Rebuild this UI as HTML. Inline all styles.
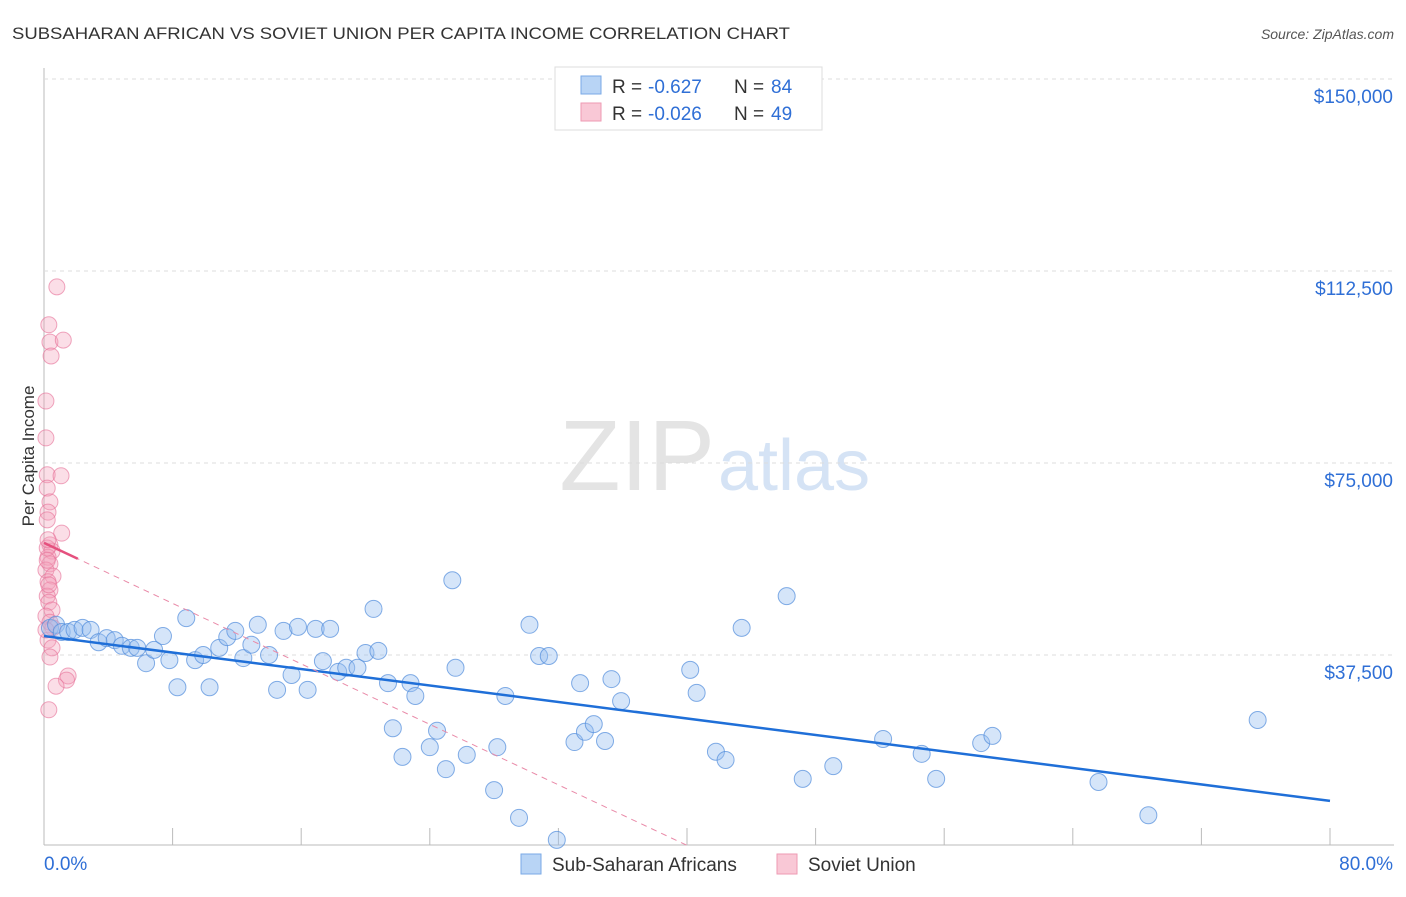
<!DOCTYPE html>
<html><head><meta charset="utf-8"><style>
body{margin:0;background:#fff;font-family:"Liberation Sans",sans-serif;}
svg text{font-family:"Liberation Sans",sans-serif;}
</style></head><body>
<svg id="chart" width="1406" height="892" xmlns="http://www.w3.org/2000/svg">
<text x="12" y="39" font-size="17" fill="#333" textLength="778" lengthAdjust="spacingAndGlyphs">SUBSAHARAN AFRICAN VS SOVIET UNION PER CAPITA INCOME CORRELATION CHART</text>
<text x="1394" y="39" font-size="14" fill="#555" text-anchor="end" font-style="italic">Source: ZipAtlas.com</text>
<text x="0" y="0" transform="translate(34,456) rotate(-90)" font-size="17" fill="#333" text-anchor="middle">Per Capita Income</text>
<text x="715" y="490" font-size="100" fill="#e4e4e4" text-anchor="end" font-family="Liberation Serif">ZIP</text>
<text x="718" y="490" font-size="72" fill="#d5e3f5">atlas</text>
<g id="grid"></g><g id="pts"></g><g id="lines"></g>
<g>
<rect x="555" y="67" width="267" height="63" fill="#fff" stroke="#ddd"/>
<rect x="581" y="76" width="20" height="18" fill="#b8d4f5" stroke="#7aa9e6"/>
<text x="612" y="93" font-size="19" fill="#333">R =</text>
<text x="648" y="93" font-size="19" fill="#2f6fd6">-0.627</text>
<text x="734" y="93" font-size="19" fill="#333">N =</text>
<text x="771" y="93" font-size="19" fill="#2f6fd6">84</text>
<rect x="581" y="103" width="20" height="18" fill="#f9c8d6" stroke="#ee9ab3"/>
<text x="612" y="120" font-size="19" fill="#333">R =</text>
<text x="648" y="120" font-size="19" fill="#2f6fd6">-0.026</text>
<text x="734" y="120" font-size="19" fill="#333">N =</text>
<text x="771" y="120" font-size="19" fill="#2f6fd6">49</text>
</g>
<g>
<rect x="521" y="854" width="20" height="20" fill="#b8d4f5" stroke="#7aa9e6"/>
<text x="552" y="871" font-size="19" fill="#333">Sub-Saharan Africans</text>
<rect x="777" y="854" width="20" height="20" fill="#f9c8d6" stroke="#ee9ab3"/>
<text x="808" y="871" font-size="19" fill="#333">Soviet Union</text>
</g>
</svg>
<script>
const yTicks=[37500,75000,112500,150000];
const yTickLabels=["$37,500","$75,000","$112,500","$150,000"];
const xLabels=["0.0%","80.0%"];
const blueX=[0.37,0.75,1.1,1.5,1.9,2.4,2.9,3.4,3.9,4.4,4.85,5.4,5.8,6.35,6.85,7.4,7.8,8.3,8.85,9.4,9.9,10.3,10.9,11.4,11.9,12.4,12.9,13.3,14.0,14.5,14.9,15.4,15.8,16.4,16.9,17.35,17.8,18.3,18.8,19.5,20.0,20.5,20.8,21.4,21.7,22.3,22.8,23.1,24.0,24.45,25.0,25.4,25.6,26.3,28.0,28.2,28.7,29.55,30.2,30.8,31.4,31.9,33.0,33.35,33.65,34.2,34.9,35.3,35.9,40.2,40.6,41.8,42.4,43.4,46.2,47.2,49.1,52.2,54.6,55.5,58.3,59.0,65.6,68.7,75.5];
const blueY=[42.8,43.4,42.0,42.0,42.4,42.8,42.4,40.0,40.8,40.4,39.3,38.9,38.9,35.9,38.5,41.2,36.5,31.2,44.7,36.5,37.5,31.2,38.9,41.0,42.2,36.9,39.5,43.4,37.5,30.7,42.2,33.6,43.0,30.7,42.6,36.3,42.6,34.2,35.0,35.0,37.9,46.5,38.3,32.0,23.2,17.6,32.0,29.5,19.5,22.7,15.2,52.1,35.0,18.0,11.1,19.5,29.5,5.7,43.4,37.3,37.3,1.4,20.5,32.0,22.5,24.0,20.7,32.8,28.5,34.6,30.1,18.6,17.0,42.8,49.0,13.3,15.8,21.1,18.2,13.3,20.3,21.7,12.7,6.2,24.8];
const pinkX=[0.8,0.3,0.37,1.2,0.44,0.12,0.12,0.2,1.06,0.2,0.37,0.25,0.2,1.1,0.37,0.5,0.25,0.37,0.12,0.56,0.25,0.37,0.2,0.3,0.5,0.12,0.37,0.56,0.25,0.5,0.37,1.5,1.4,0.75,0.3,0.2,0.2,0.3,0.12,0.25];
const pinkY=[109.4,102.0,98.6,99.0,95.9,87.1,79.9,72.7,72.5,70.1,67.4,65.4,63.9,61.3,59.0,57.8,56.6,55.3,54.1,52.9,51.8,50.2,49.0,47.8,46.3,45.1,43.9,42.8,40.4,38.9,37.1,33.4,32.6,31.4,26.8,58.4,56.0,51.2,42.4,60.0];
const blueTrend=[41.2,-0.4025];
const pinkTrend=[59.4,-1.477];
const NS="http://www.w3.org/2000/svg";
const sx=v=>44+v/80*1286;
const sy=v=>847-v/37.5*192;
function mk(tag,attrs,parent){const e=document.createElementNS(NS,tag);for(const k in attrs)e.setAttribute(k,attrs[k]);parent.appendChild(e);return e;}
const grid=document.getElementById('grid');
const g1=mk('line',{x1:44,y1:68,x2:44,y2:845,stroke:'#bbb'},grid);


const g2=mk('line',{x1:44,y1:845,x2:1394,y2:845,stroke:'#bbb'},grid);


yTicks.forEach((t,i)=>{
 const l=mk('line',{x1:44,x2:1394,y1:sy(t/1000),y2:sy(t/1000),stroke:'#ddd','stroke-dasharray':'4,4'},grid);
 
 
 const tx=mk('text',{x:1393,y:sy(t/1000)+24,'font-size':19,fill:'#2f6fd6','text-anchor':'end'},grid);
 tx.textContent=yTickLabels[i];
 
 
});
for(let i=0;i<=10;i++){
 const l=mk('line',{x1:sx(i*8),x2:sx(i*8),y1:828,y2:845,stroke:'#bbb'},grid);
 
 
}
[[0,44,'start'],[80,1393,'end']].forEach((a,i)=>{
 const tx=mk('text',{x:a[1],y:870,'font-size':19,fill:'#2f6fd6','text-anchor':a[2]},grid);
 tx.textContent=xLabels[i];
 
 
});
const pts=document.getElementById('pts');
pinkX.forEach((x,i)=>{
 const c=mk('circle',{cx:sx(x),cy:sy(pinkY[i]),r:8,fill:'rgba(244,160,187,0.35)',stroke:'rgba(230,110,150,0.6)'},pts);
 
 
});
blueX.forEach((x,i)=>{
 const c=mk('circle',{cx:sx(x),cy:sy(blueY[i]),r:8.5,fill:'rgba(150,190,240,0.4)',stroke:'rgba(80,140,220,0.7)'},pts);
 
 
});
const lines=document.getElementById('lines');
const bl=mk('line',{x1:sx(0),y1:sy(blueTrend[0]),x2:sx(80),y2:sy(blueTrend[0]+blueTrend[1]*80),stroke:'#1f6fd8','stroke-width':2.5},lines);


const xEnd=-pinkTrend[0]/pinkTrend[1];
const pd=mk('line',{x1:sx(0),y1:sy(pinkTrend[0]),x2:sx(xEnd),y2:sy(0),stroke:'#e98aa8','stroke-width':1,'stroke-dasharray':'6,5'},lines);


const ps=mk('line',{x1:sx(0),y1:sy(pinkTrend[0]),x2:sx(2.1),y2:sy(pinkTrend[0]+pinkTrend[1]*2.1),stroke:'#e5507e','stroke-width':2.5},lines);


</script>
</body></html>
